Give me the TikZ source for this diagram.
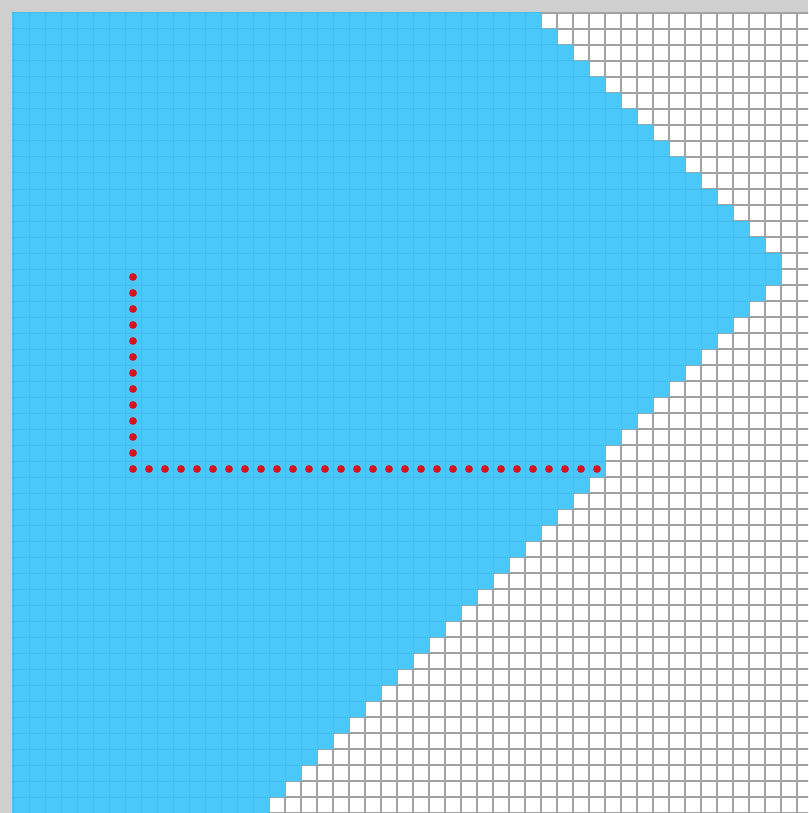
\documentclass[tikz,border=0pt]{standalone}
\usepackage{tikz}
\definecolor{skyfill}{RGB}{74,200,250}
\definecolor{skyline}{RGB}{66,188,236}
\definecolor{gridgray}{RGB}{162,162,162}
\definecolor{bordergray}{RGB}{207,207,207}
\definecolor{dotred}{RGB}{214,22,30}
\tikzset{
  gridline/.style={draw=gridgray, line width=1.7pt},
  fainline/.style={draw=skyline, line width=1pt},
  reddot/.style={fill=dotred},
}
\def\bluepath{(-1,-1) -- (33,-1)
  \foreach \r in {0,...,14}{ -- ({33+\r},{\r+1}) -- ({34+\r},{\r+1}) }
  -- (48,17)
  \foreach \r in {17,...,27}{ -- ({64-\r},\r) -- ({64-\r},{\r+1}) }
  -- (37,29)
  \foreach \r in {29,...,49}{ -- ({65-\r},\r) -- ({65-\r},{\r+1}) }
  -- (16,51) -- (-1,51) -- cycle}
\begin{document}
\begin{tikzpicture}[x=1pt,y=-1pt]
\useasboundingbox (0,0) rectangle (808,813);
\clip (0,0) rectangle (808,813);
\fill[white] (0,0) rectangle (808,813);
\begin{scope}[shift={(13,13)}, x=16pt, y=-16pt]
  % grey grid
  \foreach \k in {0,...,50} {
    \draw[gridline] (\k,-1) -- (\k,51);
    \draw[gridline] (-1,\k) -- (51,\k);
  }
  % blue staircase shape
  \fill[skyfill] \bluepath;
  % faint grid inside the blue shape
  \begin{scope}
    \clip \bluepath;
    \foreach \k in {0,...,50} {
      \draw[fainline] (\k,-1) -- (\k,51);
      \draw[fainline] (-1,\k) -- (51,\k);
    }
  \end{scope}
  % red dotted L
  \foreach \r in {16,...,28} {
    \fill[reddot] (7.5,\r+0.5) circle[radius=3.9pt];
  }
  \foreach \c in {8,...,36} {
    \fill[reddot] (\c+0.5,28.5) circle[radius=3.9pt];
  }
\end{scope}
\fill[bordergray] (0,0) rectangle (808,12);
\fill[bordergray] (0,0) rectangle (11.5,813);
\end{tikzpicture}
\end{document}
